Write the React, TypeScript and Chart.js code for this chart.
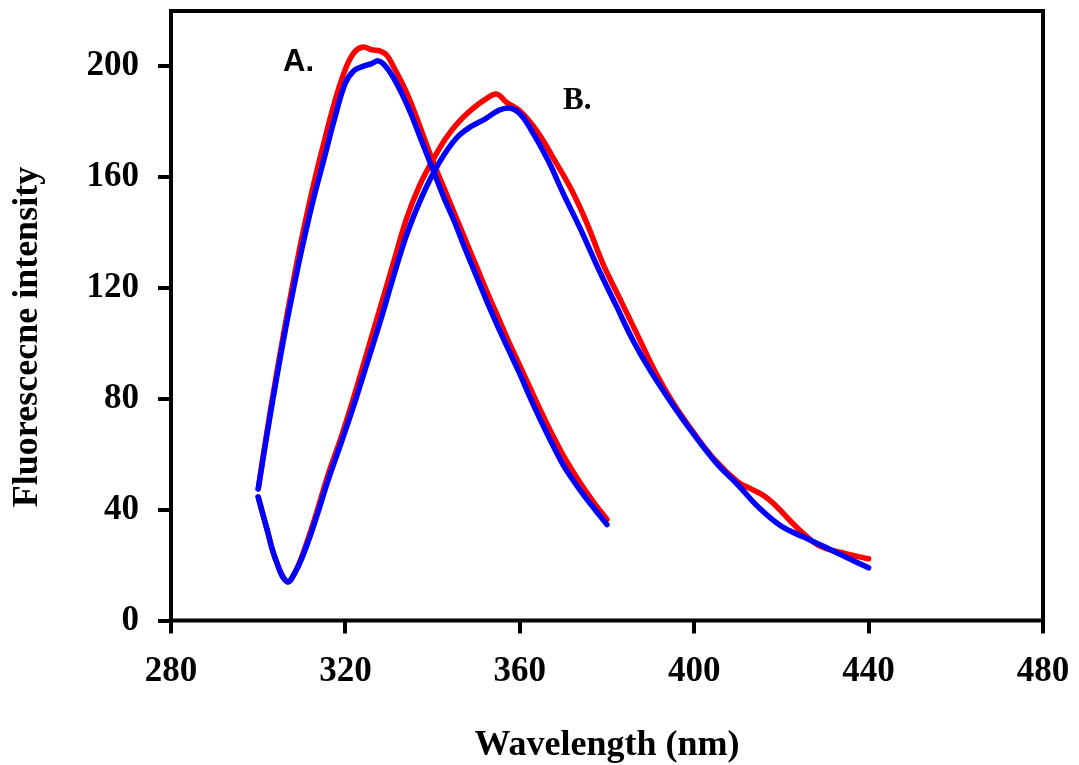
import { useEffect, useRef } from 'react';
import { Chart, registerables } from 'chart.js';

Chart.register(...registerables);

// Axis ticks
const xTicks = [280, 320, 360, 400, 440, 480];
const yTicks = [0, 40, 80, 120, 160, 200];

// Curve A (blue)
const blueAWave = [300, 302, 304, 306, 308, 310, 312.5, 315, 317.5, 320, 322, 324, 326, 327.5, 329, 331, 333, 335, 337.5, 340, 342.5, 345, 347.5, 350, 352.5, 355, 357.5, 360, 362.5, 365, 367.5, 370, 372.5, 375, 377.5, 380];
const blueAInt = [47.5, 67, 85.5, 103, 119, 134, 151, 166, 181, 194, 198.5, 200, 201, 202, 200.5, 196, 190, 183, 173, 163, 153, 144, 134, 124.5, 115, 106, 97.5, 89, 80, 71.5, 63.5, 56, 50, 44.5, 39.5, 34.6];

// Curve A (red)
const redAWave = [300, 302, 304, 306, 308, 310, 312.5, 315, 317.5, 320, 322, 324, 326, 328, 329.5, 331, 333, 335, 337.5, 340, 342.5, 345, 347.5, 350, 352.5, 355, 357.5, 360, 362.5, 365, 367.5, 370, 372.5, 375, 377.5, 380];
const redAInt = [47.5, 68, 87, 105, 122, 138, 156, 172, 187, 199, 205, 207, 206, 205.5, 204, 200, 194, 187, 176.5, 166, 156.5, 147, 137.5, 128, 118.5, 109.5, 100.5, 92, 83.5, 75, 67, 59.5, 53, 47, 41.5, 36.5];

// Curve B (blue)
const blueBWave = [300, 302, 304, 306.6, 308.5, 311, 313.5, 316, 319, 322, 325, 328, 331, 334, 337, 340, 343, 346, 349, 352, 355, 357.5, 360, 363, 366.5, 370, 374, 378, 382, 386, 390, 395, 400, 405, 410, 415, 420, 425, 430, 435, 440];
const blueBInt = [44.6, 33, 22, 14, 17.5, 26.5, 38, 50.5, 64, 78, 93, 108, 124, 139, 151, 161, 169, 175, 178.5, 181, 184, 185, 183, 176, 166, 154, 141, 127, 114, 101, 90, 78, 67, 57, 49, 40.5, 34, 30.2, 26.5, 22.7, 19];

// Curve B (red)
const redBWave = [300, 302, 304, 306.6, 308.5, 311, 313.5, 316, 319, 322, 325, 328, 331, 334, 337, 340, 343, 346, 349, 352, 354.7, 357, 360, 364, 368.4, 372, 375.5, 379, 383, 387, 391, 395, 400, 405, 410, 413, 416, 419, 422, 425, 428.7, 435, 440];
const redBInt = [44.6, 33, 22, 14, 17.5, 27.5, 39.5, 52.5, 66, 81, 97, 113, 129, 145, 157, 166, 174, 180, 184.5, 188, 190, 187, 184, 176.5, 165, 155, 143, 129, 116, 103, 90, 79, 67.5, 57.5, 50, 47.5, 45, 41, 36, 31.5, 27, 24, 22.3];

const serif = '"Liberation Serif", "Times New Roman", serif';
const tickFont = { family: serif, size: 35, weight: 'bold' as const };
const titleFont = { family: serif, size: 36, weight: 'bold' as const };

const toPts = (xs: number[], ys: number[]) => xs.map((x, i) => ({ x, y: ys[i] }));

const zeroPad = (s: any) => {
  s.paddingTop = 0;
  s.paddingBottom = 0;
  s.paddingLeft = 0;
  s.paddingRight = 0;
};

const framePlugin = {
  id: 'frame',
  afterDraw(chart: any) {
    const { ctx, chartArea } = chart;
    ctx.save();
    ctx.strokeStyle = '#000';
    ctx.lineWidth = 4;
    ctx.strokeRect(chartArea.left, chartArea.top, chartArea.right - chartArea.left, chartArea.bottom - chartArea.top);
    ctx.fillStyle = '#000';
    ctx.textBaseline = 'alphabetic';
    ctx.textAlign = 'left';
    ctx.font = 'bold 31px "Liberation Sans", Arial, sans-serif';
    ctx.fillText('A.', 283, 71);
    ctx.font = 'bold 31px ' + serif;
    ctx.fillText('B.', 563, 109);
    // y-axis title
    ctx.translate(28, 337);
    ctx.rotate(-Math.PI / 2);
    ctx.textAlign = 'center';
    ctx.textBaseline = 'middle';
    ctx.font = 'bold 36px ' + serif;
    ctx.fillText('Fluorescecne intensity', 0, 0);
    ctx.restore();
  },
};

export default function App() {
  const ref = useRef<HTMLCanvasElement>(null);
  useEffect(() => {
    document.body.style.margin = '0';
    const line = (label: string, data: any, color: string) => ({
      label,
      data,
      showLine: true,
      borderColor: color,
      backgroundColor: color,
      borderWidth: 5.5,
      pointRadius: 0,
      tension: 0.4,
      borderCapStyle: 'round' as const,
      borderJoinStyle: 'round' as const,
      fill: false,
    });
    const chart = new Chart(ref.current as HTMLCanvasElement, {
      type: 'scatter',
      data: {
        datasets: [
          line('A blue', toPts(blueAWave, blueAInt), '#0000FF'),
          line('B blue', toPts(blueBWave, blueBInt), '#0000FF'),
          line('A red', toPts(redAWave, redAInt), '#FF0000'),
          line('B red', toPts(redBWave, redBInt), '#FF0000'),
        ],
      },
      options: {
        animation: false,
        responsive: false,
        layout: { padding: { left: 0, top: 11, right: 36, bottom: -5.5 } },
        plugins: { legend: { display: false }, tooltip: { enabled: false } },
        scales: {
          x: {
            type: 'linear',
            min: 280,
            max: 480,
            afterBuildTicks: (s: any) => { s.ticks = xTicks.map((v) => ({ value: v })); },
            afterFit: (s: any) => { s.height = 150; zeroPad(s); },
            grid: { display: true, drawOnChartArea: false, drawTicks: true, tickLength: 13, color: '#000', lineWidth: 4 },
            border: { display: false },
            ticks: { font: tickFont, color: '#000', padding: 17, maxRotation: 0 },
            title: { display: true, text: 'Wavelength (nm)', font: titleFont, color: '#000', padding: { top: 0, bottom: 3 } },
          },
          y: {
            type: 'linear',
            min: 0,
            max: 220,
            afterBuildTicks: (s: any) => { s.ticks = yTicks.map((v) => ({ value: v })); },
            afterFit: (s: any) => { s.width = 171; zeroPad(s); },
            grid: { display: true, drawOnChartArea: false, drawTicks: true, tickLength: 13, color: '#000', lineWidth: 4 },
            border: { display: false },
            ticks: { font: tickFont, color: '#000', padding: 19 },
            title: { display: false },
          },
        },
      },
      plugins: [framePlugin],
    });
    return () => chart.destroy();
  }, []);
  return (
    <div style={{ width: 1079, height: 765 }}>
      <canvas ref={ref} width={1079} height={765} style={{ display: 'block' }} />
    </div>
  );
}
